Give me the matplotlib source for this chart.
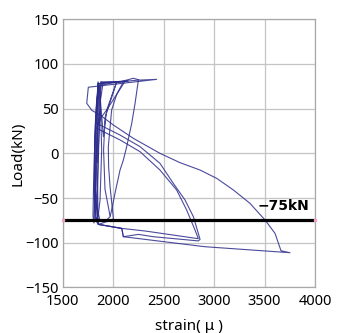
import numpy as np
import matplotlib
matplotlib.use("Agg")
import matplotlib.pyplot as plt

# ---- data (strain in micro, load in kN) ----
cycle1_strain = [1840, 1845, 1850, 1853, 1830, 1815, 1805, 1800, 1810, 1815, 1825, 1830, 1840, 1850,
                 1860, 1840, 1825, 1820, 1830, 1850, 1845, 1855, 1870, 1880]
cycle1_load = [-10, 30, 60, 78, 40, 0, -40, -70, -78, -60, -20, 20, 60, 80,
               78, 30, -20, -55, -75, -70, -30, 10, 50, 79]

cycle2_strain = [1880, 1990, 2101, 2035, 1985, 1952, 1955, 1969, 2002, 1985, 1920, 1853, 1820, 1810,
                 1815, 1830, 1853]
cycle2_load = [79, 80, 80, 66, 48.5, 7.5, -15, -37, -73, -75, -77, -79.5, -74, -40,
               0, 40, 78]

cycle3_strain = [1853, 2068, 2250, 2217, 2184, 2134, 2101, 2068, 2018, 1985, 1969, 1940, 1870, 1840,
                 1850, 1860, 1875, 1900]
cycle3_load = [78, 80, 82, 56, 33.6, 7.5, -7.5, -18.7, -44.8, -63.4, -71, -74, -76, -60,
               -20, 20, 60, 79]

cycle4_strain = [1900, 2035, 2150, 2000, 1870, 1845, 1837, 2068, 2266, 2464, 2596, 2712, 2795, 2861,
                 2844, 2398, 2250, 2101, 2085, 1853, 1830, 1840, 1860, 1880]
cycle4_load = [79, 80, 81, 79, 76, 55, 33.6, 20.5, 7.5, -11.2, -33.6, -52.2, -70.9, -96.3,
               -98, -93.3, -90.7, -93.3, -84, -79.5, -40, 0, 50, 80]

cycle5_strain = [1880, 2000, 2120, 1936, 1880, 1837, 2068, 2266, 2464, 2629, 2728, 2811, 2844,
                 2316, 2085, 1853, 1820, 1815, 1830, 1853]
cycle5_load = [80, 80, 81, 48.5, 40, 28, 15, 1.9, -18.7, -41, -63.4, -85.8, -95.5,
               -86.9, -84, -79.5, -40, 10, 50, 78]

cycle6_strain = [1853, 1870, 1880, 1886, 1870, 1853, 1830, 1820, 1815, 1825, 1840, 1860, 1903, 1936,
                 2035, 1920, 1905, 1919, 1969]
cycle6_load = [78, 60, 30, 3.7, -52, -69, -75, -40, 0, 35, 60, 78, 18.7, 48.5,
               80, 40, 3.7, -40, -70]

cycle7_strain = [1853, 2068, 2200, 2266, 2431, 1754, 1738, 1790, 1870, 2002, 2200, 2464, 2662, 2861,
                 3026, 3191, 3356, 3505, 3604, 3663, 3752, 2910, 2101, 2085, 1853, 1825, 1830,
                 1845, 1870]
cycle7_load = [78, 80, 84, 82, 82.8, 74, 56, 48, 42.9, 31.7, 16.8, 0, -10.4, -18.7,
               -28, -41, -56, -74.6, -89.6, -109, -111.2, -104.5, -93.3, -84, -79.5, -50, -10,
               30, 48]

cycles = [(cycle1_strain, cycle1_load), (cycle2_strain, cycle2_load), (cycle3_strain, cycle3_load),
          (cycle4_strain, cycle4_load), (cycle5_strain, cycle5_load), (cycle6_strain, cycle6_load),
          (cycle7_strain, cycle7_load)]

limit_load = -75
limit_label = "\u221275kN"
x_ticks = [1500, 2000, 2500, 3000, 3500, 4000]
y_ticks = [-150, -100, -50, 0, 50, 100, 150]

plt.rcParams['font.family'] = ['Noto Sans', 'DejaVu Sans']

fig = plt.figure(figsize=(3.38, 3.33), dpi=100)
ax = fig.add_axes([0.1855, 0.137, 0.7465, 0.805])

for s, l in cycles:
    ax.plot(s, l, color='#2b2b8c', lw=0.8, alpha=0.85)

# limit line
ax.plot([1500, 4000], [limit_load, limit_load], color='black', lw=2.3, zorder=5)
ax.plot([1500, 4000], [limit_load, limit_load], ls='none', marker='s', ms=2,
        color='#f2a0c8', zorder=6, clip_on=False)
ax.text(3435, -63, limit_label, fontsize=10, fontweight='bold',
        family=['Liberation Sans Narrow', 'DejaVu Sans'], va='baseline', ha='left')

ax.set_xlim(1500, 4000)
ax.set_ylim(-150, 150)
ax.set_xticks(x_ticks)
ax.set_yticks(y_ticks)
ax.tick_params(length=0, labelsize=10.5, pad=3)
ax.tick_params(axis='x', pad=5)
ax.grid(True, color='#c4c4c4', lw=0.9)
for sp in ax.spines.values():
    sp.set_color('#a8a8a8')
    sp.set_linewidth(0.9)

ax.set_ylabel("Load(kN)", fontsize=11, labelpad=0)
ax.set_xlabel("strain( \u03bc )", fontsize=11, labelpad=7)

fig.savefig("out.png", dpi=100)
